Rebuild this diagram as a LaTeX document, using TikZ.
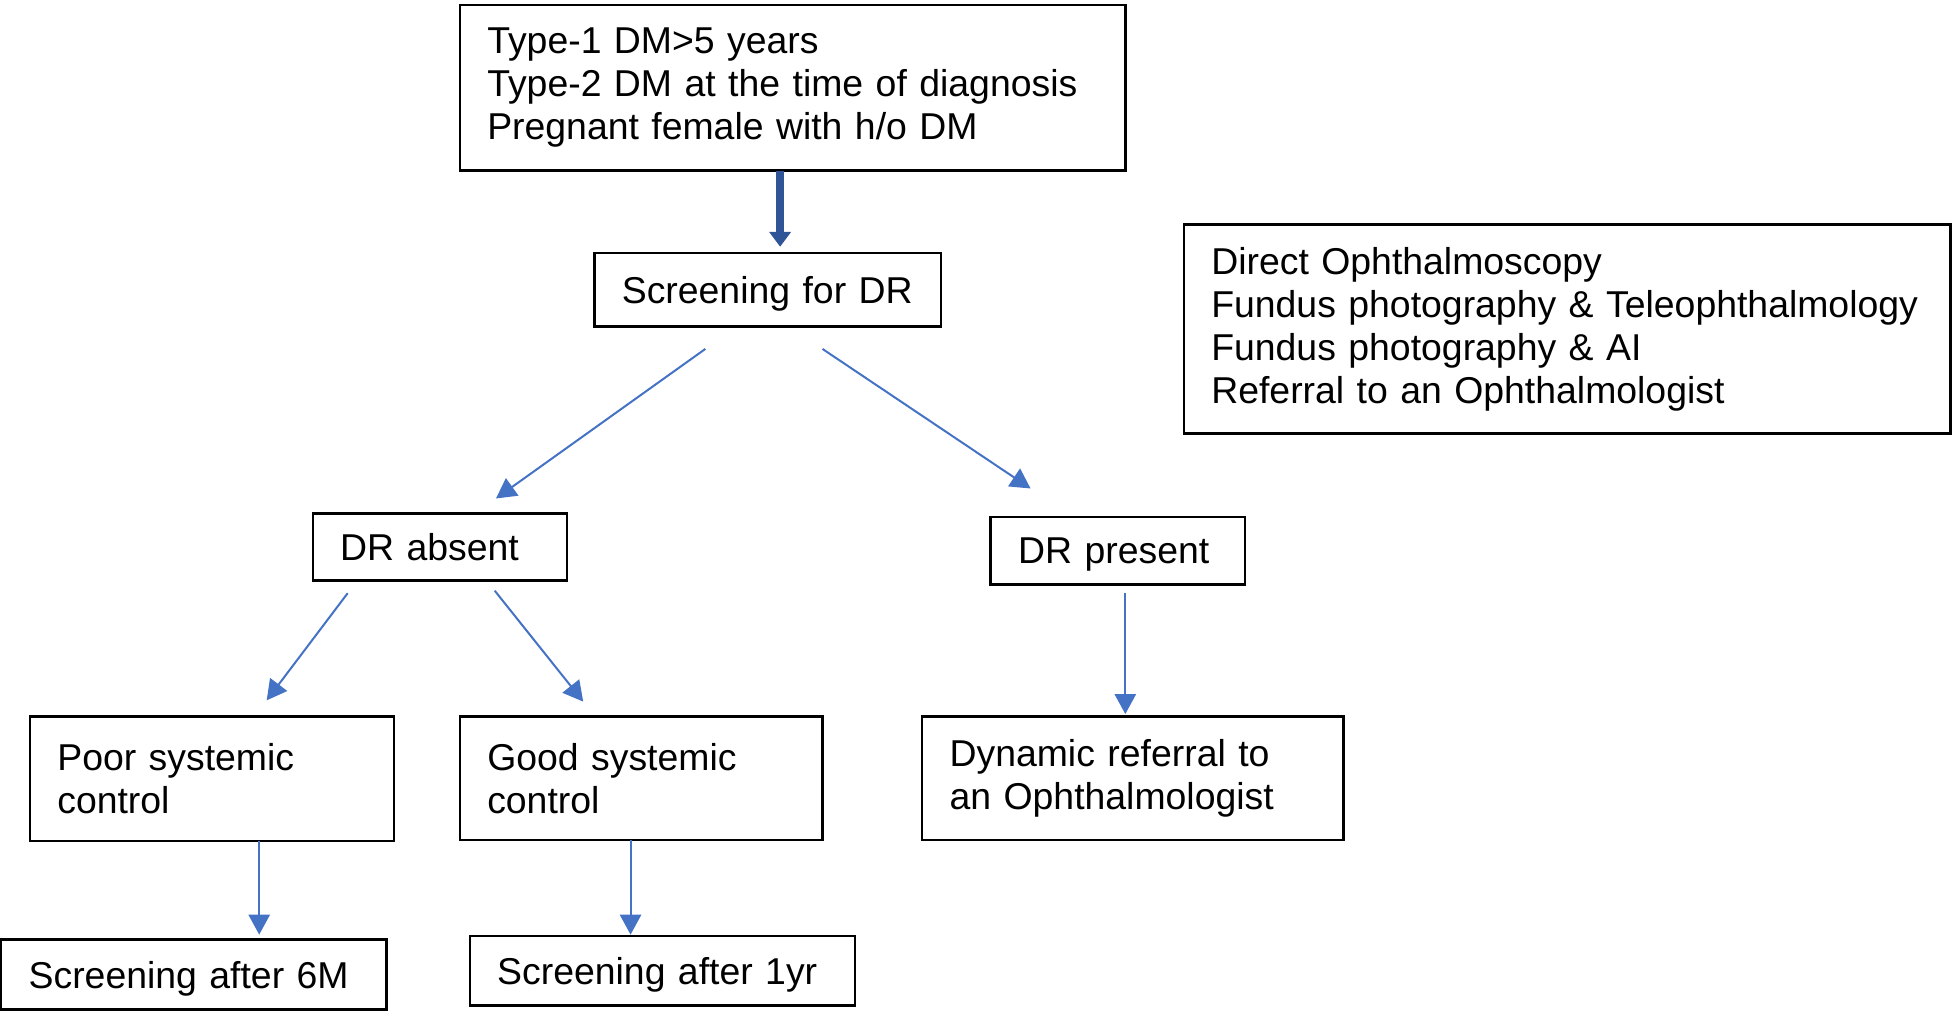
\documentclass[tikz,border=0pt]{standalone}
\usepackage{fontspec}
\setmainfont{Liberation Sans}
\usetikzlibrary{arrows.meta}
\definecolor{arrowBlue}{HTML}{4472C4}
\definecolor{arrowDark}{HTML}{2F5597}
\begin{document}
\begin{tikzpicture}
[x=1pt,y=-1pt,
  boxNode/.style={draw,line width=2pt,inner xsep=22pt,inner ysep=0pt,outer sep=0pt,align=left,anchor=north west,font=\fontsize{30}{34.5}\selectfont},%
  singleText/.style={text depth=0pt},%
  blockText/.style={},%
  flowArrow/.style={-{Triangle[length=16pt,width=17pt]},line width=1.6pt,color=arrowBlue},%
  mainArrow/.style={-{Triangle[length=12pt,width=17pt]},line width=6pt,color=arrowDark}]
\useasboundingbox (0,0) rectangle (1568,813);
%% boxes
\foreach \nodename/\x/\y/\w/\h/\kind/\txt in {
  top/369/4/534/133/blockText/{Type-1 DM>5 years\\Type-2 DM at the time of diagnosis\\Pregnant female with h/o DM},
  screen/477/203/278/59/singleText/{Screening for DR},
  methods/950/180/615/168/blockText/{Direct Ophthalmoscopy\\Fundus photography \& Teleophthalmology\\Fundus photography \& AI\\Referral to an Ophthalmologist},
  absent/251/412/204/54/singleText/{DR absent},
  present/795/415/204/54/singleText/{DR present},
  poor/24/575/292/100/blockText/{Poor systemic\\control},
  good/369/575/291/99/blockText/{Good systemic\\control},
  dynamic/740/575/338/99/blockText/{Dynamic referral to\\an Ophthalmologist},
  sixm/1/754/309/56/singleText/{Screening after 6M},
  oneyr/377/751/309/56/singleText/{Screening after 1yr}}
{
  \pgfmathsetmacro\tw{\w-44}
  \node (\nodename) at (\x,\y) [boxNode,\kind,text width=\tw pt,minimum width=\w pt,minimum height=\h pt] {\txt};
}
%% main arrow
\draw[mainArrow] ([xshift=-10pt]top.south) -- ([xshift=10pt,yshift=5pt]screen.north);
%% flow arrows
\foreach \startnode/\sx/\sy/\endnode/\ex/\ey in {
  screen.south/-50/-18/absent.north/45/12,
  screen.south/44/-18/present.north/-70/23,
  absent.south/-74/-10/poor.north/44/13,
  absent.south/44/-8/good.north/-46.5/12,
  present.south/6/-7/dynamic.north/-6/2,
  poor.south/38/0/sixm.north/52.5/4,
  good.south/-8.5/0/oneyr.north/-25.5/1}
{
  \draw[flowArrow] ([xshift=\sx pt,yshift=\sy pt]\startnode) -- ([xshift=\ex pt,yshift=\ey pt]\endnode);
}
\end{tikzpicture}
\end{document}
